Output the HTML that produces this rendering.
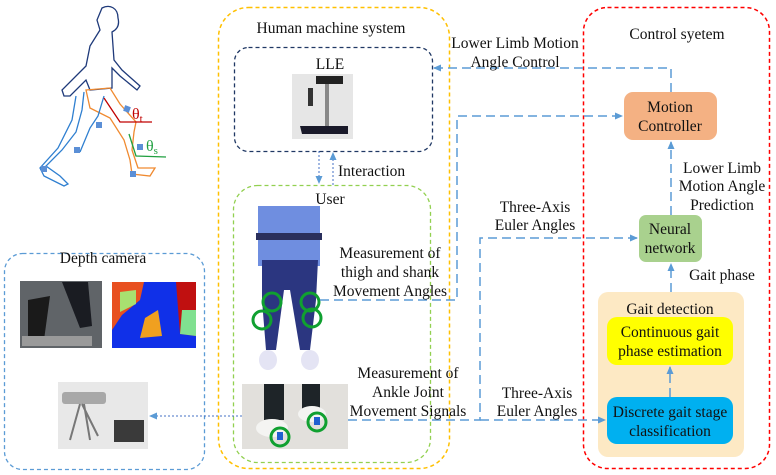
<!DOCTYPE html>
<html><head><meta charset="utf-8"><style>
html,body{margin:0;padding:0;background:#fff;width:776px;height:475px;overflow:hidden}
svg{display:block}
text{font-family:"Liberation Serif",serif;font-size:15.5px;fill:#111}
</style></head><body>
<svg width="776" height="475" viewBox="0 0 776 475" xmlns="http://www.w3.org/2000/svg">
<defs>
<marker id="ah" markerWidth="8" markerHeight="8" refX="7" refY="4" orient="auto" markerUnits="userSpaceOnUse"><path d="M0,0.5 L8,4 L0,7.5 z" fill="#5b9bd5"/></marker>
</defs>

<!-- walking figure -->
<g fill="none" stroke-width="1.3">
<path d="M102,8 C110,4 118,8 118,18 C120,26 116,30 112,32 L114,60 L122,70 L140,86 L137,90 L120,76 L112,68 L112,88 L90,90 L86,80 L70,96 L64,96 L62,90 L86,66 L90,46 L100,30 L97,20 Z" stroke="#1f3a7a"/>
<path d="M86,90 L110,88 L120,104 L136,122 L134,132 L132,150 L138,168 L155,168 L150,176 L132,174 L130,160 L124,140 L110,118 L90,108 Z" stroke="#f08a30"/>
<path d="M84,92 L82,110 L76,132 L62,150 L46,166 L60,176 L68,184 L64,186 L44,176 L40,168 L58,148 L72,120 L76,96" stroke="#2f7fd0"/>
<path d="M104,96 L98,116 L90,128 L80,152" stroke="#2f7fd0"/>
<path d="M104,98 L120,122 L152,122" stroke="#c00000"/>
<path d="M129,134 L136,156 L166,157" stroke="#20a040"/>
</g>
<g fill="#5b8fd6">
<rect x="124" y="106" width="6" height="6" transform="rotate(20 127 109)"/>
<rect x="96" y="122" width="6" height="6"/>
<rect x="74" y="147" width="6" height="6"/>
<rect x="41" y="166" width="6" height="6"/>
<rect x="130" y="171" width="6" height="6"/>
<rect x="137" y="144" width="6" height="6"/>
</g>
<text x="132" y="119" style="font-size:16px;fill:#c00000">θ<tspan style="font-size:11px" dy="3">t</tspan></text>
<text x="146" y="151" style="font-size:16px;fill:#20a040">θ<tspan style="font-size:11px" dy="3">s</tspan></text>

<!-- containers -->
<rect x="218.5" y="7.5" width="231" height="461" rx="30" fill="none" stroke="#ffc000" stroke-width="1.5" stroke-dasharray="4,3"/>
<rect x="583.5" y="7.5" width="186" height="461" rx="24" fill="none" stroke="#ff0000" stroke-width="1.5" stroke-dasharray="4,3"/>
<rect x="234.5" y="47.5" width="198" height="104" rx="14" fill="none" stroke="#203864" stroke-width="1.3" stroke-dasharray="4,3"/>
<rect x="233.5" y="185.5" width="197" height="277" rx="24" fill="none" stroke="#92d050" stroke-width="1.3" stroke-dasharray="4,3"/>
<rect x="4.5" y="253.5" width="200" height="216" rx="18" fill="none" stroke="#5b9bd5" stroke-width="1.3" stroke-dasharray="4,3"/>

<text x="331" y="33" text-anchor="middle">Human machine system</text>
<text x="330" y="69" text-anchor="middle">LLE</text>
<text x="330" y="204" text-anchor="middle">User</text>
<text x="677" y="39" text-anchor="middle">Control syetem</text>
<text x="103" y="263" text-anchor="middle">Depth camera</text>

<!-- LLE image -->
<rect x="292" y="74" width="61" height="65" fill="#e6e6e6"/>
<rect x="316" y="76" width="27" height="8" fill="#222"/>
<rect x="325" y="84" width="4" height="46" fill="#888"/>
<path d="M300,126 L348,126 L348,134 L302,134Z" fill="#1a1a2a"/>
<rect x="308" y="88" width="5" height="18" fill="#333"/>

<!-- user photo -->
<rect x="258" y="206" width="62" height="60" fill="#6f8ee0"/>
<rect x="256" y="233" width="66" height="7" fill="#2a2f5c"/>
<path d="M262,260 L318,260 L316,300 L310,350 L300,350 L290,290 L284,290 L276,350 L266,350 L262,300Z" fill="#2b3680"/>
<ellipse cx="268" cy="360" rx="9" ry="10" fill="#e4e4f4"/>
<ellipse cx="310" cy="360" rx="9" ry="10" fill="#e4e4f4"/>
<g fill="none" stroke="#10a030" stroke-width="3"><circle cx="272" cy="302" r="9"/><circle cx="310" cy="302" r="9"/><circle cx="262" cy="320" r="9"/><circle cx="312" cy="318" r="9"/></g>
<!-- ankle photo -->
<rect x="242" y="384" width="106" height="65" fill="#e2e0dc"/>
<rect x="264" y="384" width="20" height="36" fill="#1e2428"/>
<rect x="302" y="384" width="18" height="28" fill="#1e2428"/>
<ellipse cx="272" cy="428" rx="16" ry="9" fill="#f4f4f2"/>
<ellipse cx="312" cy="414" rx="14" ry="8" fill="#f4f4f2"/>
<g fill="none" stroke="#10a030" stroke-width="3"><circle cx="280" cy="437" r="9"/><circle cx="317" cy="422" r="9"/></g>
<rect x="277" y="432" width="6" height="8" fill="#2060d0"/><rect x="314" y="417" width="6" height="8" fill="#2060d0"/>

<!-- depth camera images -->
<rect x="20" y="281" width="82" height="67" fill="#606468"/>
<path d="M28,300 L50,296 L44,340 L28,340Z" fill="#1a1a1a"/>
<path d="M62,282 L88,282 L92,326 L80,328Z" fill="#1a1c22"/>
<rect x="22" y="336" width="70" height="10" fill="#9a9a9a"/>
<rect x="112" y="282" width="84" height="66" fill="#1030e8"/>
<path d="M112,282 L144,282 L140,300 L122,315 L112,330Z" fill="#e85020"/>
<path d="M120,292 L136,290 L136,304 L120,312Z" fill="#a8e070"/>
<path d="M145,318 L158,310 L162,336 L140,338Z" fill="#f0a020"/>
<path d="M176,282 L196,282 L196,336 L180,334Z" fill="#c01010"/>
<path d="M182,310 L196,310 L196,336 L180,334Z" fill="#80e090"/>
<rect x="58" y="382" width="90" height="67" fill="#e8e8e8"/>
<rect x="62" y="392" width="44" height="12" rx="3" fill="#a8a8a8"/>
<path d="M80,404 L70,440 M84,404 L90,440 M82,404 L98,436" stroke="#777" stroke-width="2"/>
<rect x="114" y="420" width="30" height="22" fill="#3a3a3a"/>

<!-- Boxes right -->
<rect x="624" y="92" width="93" height="48" rx="9" fill="#f4b183"/>
<text x="670" y="112" text-anchor="middle">Motion</text>
<text x="670" y="131" text-anchor="middle">Controller</text>
<rect x="639" y="215" width="63" height="47" rx="7" fill="#a9d18e"/>
<text x="670" y="234" text-anchor="middle">Neural</text>
<text x="670" y="253" text-anchor="middle">network</text>
<rect x="598" y="292" width="146" height="165" rx="10" fill="#fde9c4"/>
<text x="670" y="314" text-anchor="middle">Gait detection</text>
<rect x="607" y="317" width="126" height="48" rx="10" fill="#ffff00"/>
<text x="670" y="337" text-anchor="middle">Continuous gait</text>
<text x="670" y="356" text-anchor="middle">phase estimation</text>
<rect x="607" y="397" width="126" height="47" rx="10" fill="#00b0f0"/>
<text x="670" y="417" text-anchor="middle">Discrete gait stage</text>
<text x="670" y="436" text-anchor="middle">classification</text>

<!-- connectors -->
<g fill="none" stroke="#5b9bd5" stroke-width="1.5" stroke-dasharray="9,5">
<path d="M671,92 L671,68 L434,68" marker-end="url(#ah)"/>
<path d="M320,300 L457,300 L457,116 L622,116" marker-end="url(#ah)"/>
<path d="M348,420 L480,420 L480,238 L637,238" marker-end="url(#ah)"/>
<path d="M480,420 L605,420" marker-end="url(#ah)"/>
<path d="M671,215 L671,142" marker-end="url(#ah)"/>
<path d="M671,292 L671,264" marker-end="url(#ah)"/>
<path d="M670,397 L670,367" marker-end="url(#ah)"/>
</g>
<g fill="none" stroke="#4472c4" stroke-width="1" stroke-dasharray="2,2">
<path d="M319,151 L319,183" marker-end="url(#ah)"/>
<path d="M333,185 L333,153" marker-end="url(#ah)"/>
<path d="M242,416 L150,416" marker-end="url(#ah)"/>
</g>

<!-- labels -->
<text x="515" y="48" text-anchor="middle">Lower Limb Motion</text>
<text x="515" y="67" text-anchor="middle">Angle Control</text>
<text x="338" y="176">Interaction</text>
<text x="722" y="173" text-anchor="middle">Lower Limb</text>
<text x="722" y="191" text-anchor="middle">Motion Angle</text>
<text x="722" y="210" text-anchor="middle">Prediction</text>
<text x="722" y="280" text-anchor="middle">Gait phase</text>
<text x="535" y="212" text-anchor="middle">Three-Axis</text>
<text x="535" y="230" text-anchor="middle">Euler Angles</text>
<text x="537" y="398" text-anchor="middle">Three-Axis</text>
<text x="537" y="416" text-anchor="middle">Euler Angles</text>
<text x="390" y="258" text-anchor="middle">Measurement of</text>
<text x="390" y="277" text-anchor="middle">thigh and shank</text>
<text x="390" y="296" text-anchor="middle">Movement Angles</text>
<text x="408" y="378" text-anchor="middle">Measurement of</text>
<text x="408" y="397" text-anchor="middle">Ankle Joint</text>
<text x="408" y="416" text-anchor="middle">Movement Signals</text>
</svg>
</body></html>
